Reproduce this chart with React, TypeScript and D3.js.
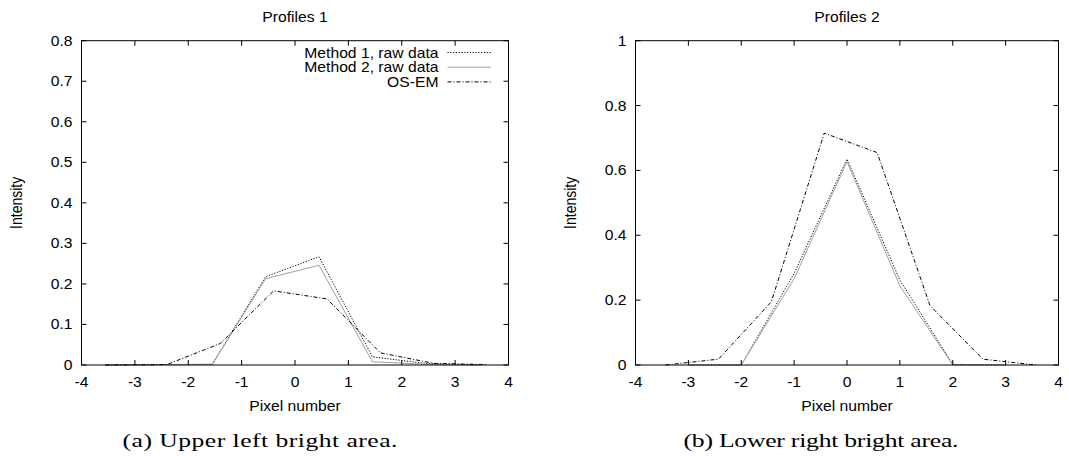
import React from "react";
import * as d3 from "d3";

// ---------- data ----------
const xTicks = [-4, -3, -2, -1, 0, 1, 2, 3, 4];
const p1YTicks = [0, 0.1, 0.2, 0.3, 0.4, 0.5, 0.6, 0.7, 0.8];
const p2YTicks = [0, 0.2, 0.4, 0.6, 0.8, 1];
const p1YLabels = ["0", "0.1", "0.2", "0.3", "0.4", "0.5", "0.6", "0.7", "0.8"];
const p2YLabels = ["0", "0.2", "0.4", "0.6", "0.8", "1"];

const seriesNames = ["Method 1, raw data", "Method 2, raw data", "OS-EM"];

// Profiles 1
const p1MethodX = [-3.55, -2.55, -1.55, -0.55, 0.45, 1.45, 2.45, 3.45];
const p1Method1 = [0, 0.001, 0.002, 0.218, 0.267, 0.02, 0.004, 0];
const p1Method2 = [0, 0.001, 0.001, 0.213, 0.246, 0.008, 0.002, 0];
const p1OsemX = [-3.55, -2.4, -1.4, -0.4, 0.6, 1.6, 2.6, 3.6];
const p1Osem = [0, 0.001, 0.053, 0.183, 0.163, 0.03, 0.004, 0.001];

// Profiles 2
const p2MethodX = [-3, -2, -1, 0, 1, 2, 3];
const p2Method1 = [0, 0, 0.282, 0.635, 0.262, 0.002, 0];
const p2Method2 = [0, 0, 0.266, 0.627, 0.244, 0, 0];
const p2OsemX = [-3.43, -2.43, -1.43, -0.43, 0.57, 1.57, 2.57, 3.57];
const p2Osem = [0, 0.018, 0.195, 0.715, 0.655, 0.183, 0.018, 0];

// ---------- styles ----------
const SANS = "'Liberation Sans', Arial, sans-serif";
const SERIF = "'Liberation Serif', 'Times New Roman', serif";
const SX = 1.12;
const FS = 14;
const CAP_SX = 1.35;

const styles = [
  { stroke: "#000", dash: "1.2,1.6", width: 1 },
  { stroke: "#a0a0a0", dash: "none", width: 1 },
  { stroke: "#000", dash: "4,2,1,2", width: 1 },
];

type TProps = {
  x: number;
  y: number;
  anchor?: string;
  children: React.ReactNode;
  size?: number;
  rotate?: boolean;
};

function T({ x, y, anchor = "middle", children, size = FS, rotate = false }: TProps) {
  const tr = rotate
    ? `translate(${x},${y}) rotate(-90) scale(1,${SX})`
    : `translate(${x},${y}) scale(${SX},1)`;
  return (
    <text transform={tr} textAnchor={anchor} fontFamily={SANS} fontSize={size} fill="#000">
      {children}
    </text>
  );
}

type PanelProps = {
  left: number;
  right: number;
  top: number;
  bottom: number;
  yMax: number;
  yTicks: number[];
  yLabels: string[];
  title: string;
  caption: string;
  captionX: number;
  labelX: number;
  series: { xs: number[]; ys: number[] }[];
  legend: boolean;
};

function Panel(p: PanelProps) {
  const x = d3.scaleLinear().domain([-4, 4]).range([p.left, p.right]);
  const y = d3.scaleLinear().domain([0, p.yMax]).range([p.bottom, p.top]);
  const line = d3
    .line<[number, number]>()
    .x((d) => x(d[0]))
    .y((d) => y(d[1]));
  const tl = 5;
  const cx = (p.left + p.right) / 2;
  const cy = (p.top + p.bottom) / 2;
  return (
    <g>
      {/* series */}
      {p.series.map((s, i) => (
        <path
          key={i}
          d={line(s.xs.map((v, j) => [v, s.ys[j]] as [number, number])) || ""}
          fill="none"
          stroke={styles[i].stroke}
          strokeWidth={styles[i].width}
          strokeDasharray={styles[i].dash}
        />
      ))}
      {/* ticks */}
      {xTicks.map((t) => (
        <g key={"xt" + t}>
          <line x1={x(t)} x2={x(t)} y1={p.bottom} y2={p.bottom - tl} stroke="#000" />
          <line x1={x(t)} x2={x(t)} y1={p.top} y2={p.top + tl} stroke="#000" />
          <T x={x(t)} y={p.bottom + 22}>
            {String(t)}
          </T>
        </g>
      ))}
      {p.yTicks.map((t, i) => (
        <g key={"yt" + t}>
          <line x1={p.left} x2={p.left + tl} y1={y(t)} y2={y(t)} stroke="#000" />
          <line x1={p.right} x2={p.right - tl} y1={y(t)} y2={y(t)} stroke="#000" />
          <T x={p.left - 9} y={y(t) + 5} anchor="end">
            {p.yLabels[i]}
          </T>
        </g>
      ))}
      {/* frame */}
      <rect
        x={p.left}
        y={p.top}
        width={p.right - p.left}
        height={p.bottom - p.top}
        fill="none"
        stroke="#000"
        strokeWidth={1}
      />
      {/* titles */}
      <T x={cx} y={22}>
        {p.title}
      </T>
      <T x={cx} y={p.bottom + 46}>
        Pixel number
      </T>
      <T x={p.labelX} y={cy} rotate>
        Intensity
      </T>
      <text
        transform={`translate(${p.captionX},447) scale(${CAP_SX},1)`}
        textAnchor="middle"
        fontFamily={SERIF}
        fontSize={19}
        textLength={275 / CAP_SX}
        lengthAdjust="spacing"
        fill="#000"
      >
        {p.caption}
      </text>
      {/* legend */}
      {p.legend &&
        seriesNames.map((n, i) => {
          const ly = 52.5 + i * 14.7;
          return (
            <g key={n}>
              <T x={438.5} y={ly + 5} anchor="end">
                {n}
              </T>
              <line
                x1={447.5}
                x2={491}
                y1={ly}
                y2={ly}
                stroke={styles[i].stroke}
                strokeWidth={styles[i].width}
                strokeDasharray={styles[i].dash}
              />
            </g>
          );
        })}
    </g>
  );
}

export default function App() {
  return (
    <svg
      width={1069}
      height={456}
      style={{ position: "absolute", left: 0, top: 0, display: "block", background: "#fff" }}
    >
      <rect x={0} y={0} width={1069} height={456} fill="#fff" />
      <Panel
        left={81.5}
        right={508.5}
        top={40.7}
        bottom={365}
        yMax={0.8}
        yTicks={p1YTicks}
        yLabels={p1YLabels}
        title="Profiles 1"
        caption="(a) Upper left bright area."
        captionX={260}
        labelX={22}
        legend={true}
        series={[
          { xs: p1MethodX, ys: p1Method1 },
          { xs: p1MethodX, ys: p1Method2 },
          { xs: p1OsemX, ys: p1Osem },
        ]}
      />
      <Panel
        left={635.5}
        right={1058.5}
        top={40.7}
        bottom={365}
        yMax={1}
        yTicks={p2YTicks}
        yLabels={p2YLabels}
        title="Profiles 2"
        caption="(b) Lower right bright area."
        captionX={821}
        labelX={576}
        legend={false}
        series={[
          { xs: p2MethodX, ys: p2Method1 },
          { xs: p2MethodX, ys: p2Method2 },
          { xs: p2OsemX, ys: p2Osem },
        ]}
      />
    </svg>
  );
}
